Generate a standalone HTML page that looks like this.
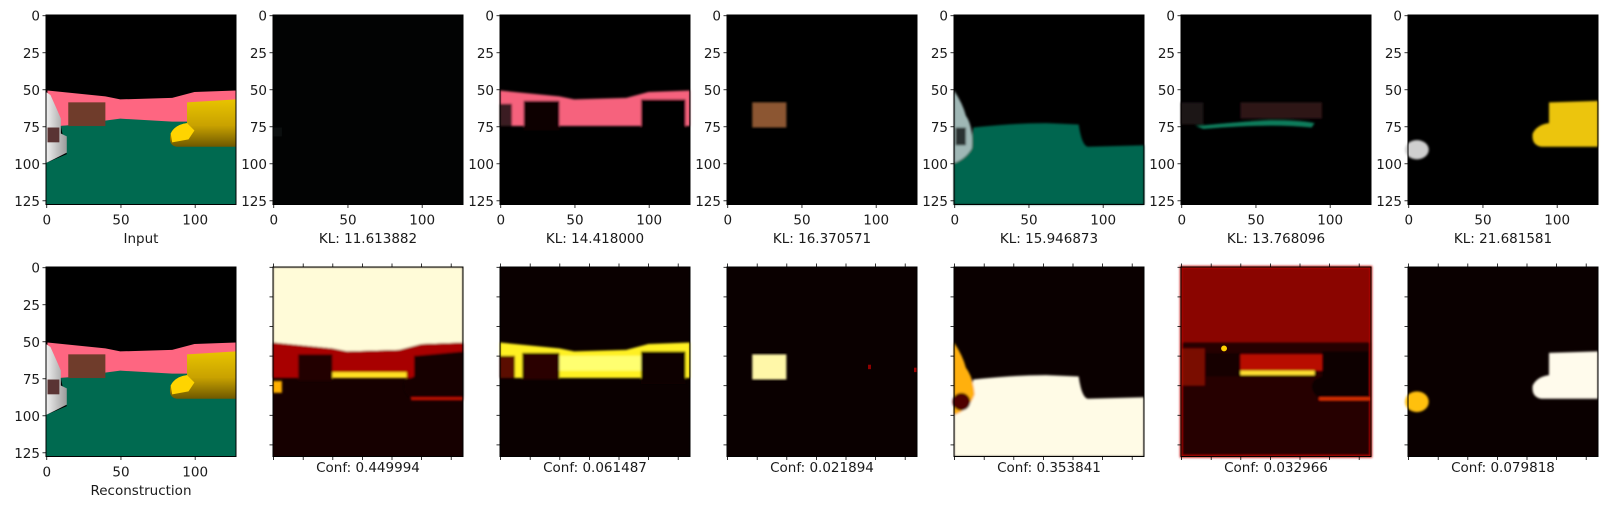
<!DOCTYPE html>
<html><head><meta charset="utf-8">
<style>
html,body{margin:0;padding:0;background:#fff;}
svg{display:block;font-family:"DejaVu Sans","Liberation Sans",sans-serif;}
text{font-size:13.5px;fill:#1a1a1a;}
</style></head>
<body>
<svg id="fig" width="1609" height="509" viewBox="0 0 1609 509" xmlns="http://www.w3.org/2000/svg">
<defs>
<filter id="bl" x="-5%" y="-5%" width="110%" height="110%"><feGaussianBlur stdDeviation="0.7"/></filter>
<linearGradient id="yel" x1="0" y1="0" x2="0" y2="1"><stop offset="0" stop-color="#e8c400"/><stop offset="0.55" stop-color="#c9a200"/><stop offset="1" stop-color="#6e5800"/></linearGradient>
<linearGradient id="car" x1="0" y1="0" x2="1" y2="0"><stop offset="0" stop-color="#f0f0f0"/><stop offset="1" stop-color="#9a9a9a"/></linearGradient>
</defs>
<g id="panels"></g>
<g id="axes"></g>
</svg>
<script>
const klValues = [11.613882, 14.418000, 16.370571, 15.946873, 13.768096, 21.681581];
const confValues = [0.449994, 0.061487, 0.021894, 0.353841, 0.032966, 0.079818];
const yTicks = [0, 25, 50, 75, 100, 125];
const xTicks = [0, 50, 100];
const heatTicks = [0, 1, 2, 3, 4, 5, 6];

const NS = "http://www.w3.org/2000/svg";
const L0 = 46, STEP = 227, W = 190, H = 189.5;
const ROWY = [15, 267];
const px = (k, v) => L0 + STEP * k + (v + 0.5) / 128 * W;
const py = (r, v) => ROWY[r] + (v + 0.5) / 128 * H;

const scene = `<rect width="128" height="128" fill="#000"/>
<polygon points="1,51 40,55 50,57 85,56 100,52 128,51 128,74 0,75" fill="#fe6681"/>
<polygon points="0,100 14,94 10,75 20,74 50,70 85,72 128,72 128,128 0,128" fill="#006a50"/>
<rect x="15" y="59" width="25" height="16" fill="#6f3c2b"/>
<path d="M95,59 L128,57 L128,89 L88,89 Q82,88 84,80 Q87,74 95,73 Z" fill="url(#yel)"/>
<path d="M84,80 Q87,74 95,73 L100,78 L96,84 L85,86 Z" fill="#ffd400"/>
<polygon points="0,52 3,54 7,63 10,70 10,80 14,82 14,93 6,97 0,100" fill="url(#car)"/>
<rect x="1" y="76" width="8" height="10" fill="#5a3434"/>`;

const contents = {
 top0: scene,
 top1: `<rect width="128" height="128" fill="#020303"/><rect x="0" y="76" width="6" height="6" fill="#0c0f0f"/>`,
 top2: `<rect width="128" height="128" fill="#000"/>
<g filter="url(#bl)"><polygon points="0,51 40,55 50,57 85,56 100,52 128,51 128,75 0,75" fill="#f6627d"/>
<rect x="16" y="58" width="24" height="20" fill="#100606"/><rect x="95" y="57" width="30" height="22" fill="#000"/>
<rect x="0" y="60" width="8" height="15" fill="#3a1a20"/></g>`,
 top3: `<rect width="128" height="128" fill="#000"/><rect x="17" y="59" width="23" height="17" fill="#8c5631" filter="url(#bl)"/>`,
 top4: `<rect width="128" height="128" fill="#000"/>
<g filter="url(#bl)"><path d="M13,76 Q40,73 62,73 L84,74 Q86,88 90,89 L128,88 L128,128 L0,128 L0,100 Q10,96 13,76 Z" fill="#046650"/>
<path d="M0,51 Q6,60 8,68 Q13,75 12,90 Q8,97 0,100 Z" fill="#9fb7b5"/><rect x="1" y="76" width="7" height="12" fill="#2a3232"/></g>`,
 top5: `<rect width="128" height="128" fill="#000"/>
<g filter="url(#bl)"><rect x="40" y="59" width="55" height="11" fill="#2e1519"/>
<path d="M10,75 Q40,72 60,71 Q80,71 90,73 L88,76 Q60,73 15,77 Z" fill="#0e7d5c"/>
<rect x="0" y="59" width="15" height="15" fill="#1d1214"/></g>`,
 top6: `<rect width="128" height="128" fill="#000"/>
<g filter="url(#bl)"><path d="M95,59 L128,58 L128,89 L90,89 Q83,88 84,80 Q87,74 95,73 Z" fill="#ecc50a"/>
<ellipse cx="6" cy="91" rx="8" ry="6.5" fill="#cfcfcf"/></g>`,
 bot0: scene,
 bot1: `<rect width="128" height="128" fill="#160000"/>
<g filter="url(#bl)"><polygon points="0,0 128,0 128,51 100,52 85,56 50,57 40,55 0,51" fill="#fffbd8"/>
<polygon points="0,51 40,55 50,57 85,56 100,52 128,51 128,75 0,75" fill="#a80000"/>
<rect x="17" y="59" width="23" height="18" fill="#200000"/><path d="M95,60 L128,57 L128,89 L93,89 Q85,82 90,76 L95,74 Z" fill="#120000"/>
<rect x="40" y="71" width="50" height="4" fill="#ffe020"/><rect x="0" y="77" width="6" height="8" fill="#ffb000"/>
<rect x="93" y="88" width="35" height="2" fill="#c01000"/></g>`,
 bot2: `<rect width="128" height="128" fill="#0a0000"/>
<g filter="url(#bl)"><polygon points="0,51 40,55 50,57 85,56 100,52 128,51 128,75 0,75" fill="#fff020"/>
<rect x="15" y="58" width="25" height="18" fill="#2c0000"/><rect x="95" y="57" width="30" height="22" fill="#0a0000"/>
<rect x="0" y="60" width="10" height="15" fill="#5a0800"/><rect x="40" y="60" width="55" height="10" fill="#ffff70"/></g>`,
 bot3: `<rect width="128" height="128" fill="#0a0000"/><rect x="17" y="59" width="23" height="17" fill="#fff7a8" filter="url(#bl)"/>
<rect x="126" y="68" width="2" height="3" fill="#a00000"/><rect x="95" y="66" width="2" height="3" fill="#900000"/>`,
 bot4: `<rect width="128" height="128" fill="#0a0000"/>
<g filter="url(#bl)"><path d="M13,76 Q40,73 62,73 L84,74 Q86,88 90,89 L128,88 L128,128 L0,128 L0,100 Q10,96 13,76 Z" fill="#fffbe6"/>
<path d="M0,51 Q6,60 8,68 Q13,75 14,86 Q10,97 0,100 Z" fill="#ffb010"/><ellipse cx="5" cy="91" rx="6" ry="6" fill="#500000"/></g>`,
 bot5: `<rect width="128" height="128" fill="#8a0500"/>
<g filter="url(#bl)"><rect x="0" y="51" width="128" height="77" fill="#280000"/>
<rect x="40" y="59" width="55" height="11" fill="#b81000"/><rect x="40" y="70" width="50" height="3" fill="#ffe030"/>
<rect x="16" y="58" width="24" height="16" fill="#120000"/><path d="M95,57 L128,57 L128,89 L93,89 Q85,82 90,76 L95,74 Z" fill="#100000"/>
<rect x="0" y="55" width="16" height="25" fill="#7a0800"/><rect x="93" y="88" width="35" height="2" fill="#e03000"/>
<rect x="0" y="0" width="128" height="128" fill="none" stroke="#c81000" stroke-width="1.5"/></g>
<circle cx="29" cy="55" r="2" fill="#ffd000"/>`,
 bot6: `<rect width="128" height="128" fill="#0a0000"/>
<g filter="url(#bl)"><path d="M95,58 L128,57 L128,89 L90,89 Q83,88 84,80 Q87,74 95,73 Z" fill="#fffbec"/>
<ellipse cx="6" cy="91" rx="8" ry="7" fill="#ffc010"/></g>`
};

const panels = document.getElementById('panels');
const axes = document.getElementById('axes');

function mk(tag, attrs, parent) {
  const e = document.createElementNS(NS, tag);
  for (const k in attrs) e.setAttribute(k, attrs[k]);
  parent.appendChild(e);
  return e;
}

for (let r = 0; r < 2; r++) {
  for (let k = 0; k < 7; k++) {
    const x0 = L0 + STEP * k, y0 = ROWY[r];
    const g = mk('g', {transform: `translate(${x0},${y0}) scale(${W/128},${H/128})`}, panels);
    
    
    g.innerHTML = contents[(r === 0 ? 'top' : 'bot') + k];
    const frame = mk('rect', {x: x0, y: y0, width: W, height: H, fill: 'none', stroke: '#000', 'stroke-width': 1}, axes);
    
    

    const labeled = (r === 0) || k === 0;
    if (labeled) {
      yTicks.forEach(v => {
        const y = py(r, v);
        mk('line', {x1: x0 - 3.5, x2: x0, y1: y, y2: y, stroke: '#000', 'stroke-width': 0.8}, axes);
        const t = mk('text', {x: x0 - 6, y: y + 5, 'text-anchor': 'end'}, axes);
        t.textContent = v;
        
        
      });
      xTicks.forEach(v => {
        const x = px(k, v);
        mk('line', {x1: x, x2: x, y1: y0 + H, y2: y0 + H + 3.5, stroke: '#000', 'stroke-width': 0.8}, axes);
        const t = mk('text', {x: x, y: y0 + H + 20, 'text-anchor': 'middle'}, axes);
        t.textContent = v;
        
        
      });
    } else {
      heatTicks.forEach(i => {
        const x = x0 + 0.6 + i * 29.6;
        const y = y0 + 0.3 + i * 29.6;
        mk('line', {x1: x, x2: x, y1: y0 - 3.5, y2: y0, stroke: '#000', 'stroke-width': 0.8}, axes);
        mk('line', {x1: x, x2: x, y1: y0 + H, y2: y0 + H + 3.5, stroke: '#000', 'stroke-width': 0.8}, axes);
        mk('line', {x1: x0 - 3.5, x2: x0, y1: y, y2: y, stroke: '#000', 'stroke-width': 0.8}, axes);
      });
    }
    let label, ly;
    if (r === 0) { label = k === 0 ? 'Input' : 'KL: ' + klValues[k - 1].toFixed(6); ly = 243; }
    else if (k === 0) { label = 'Reconstruction'; ly = 495; }
    else { label = 'Conf: ' + confValues[k - 1].toFixed(6); ly = 472; }
    const t = mk('text', {x: x0 + W / 2, y: ly, 'text-anchor': 'middle'}, axes);
    t.textContent = label;
    
    
  }
}
</script>
</body></html>
